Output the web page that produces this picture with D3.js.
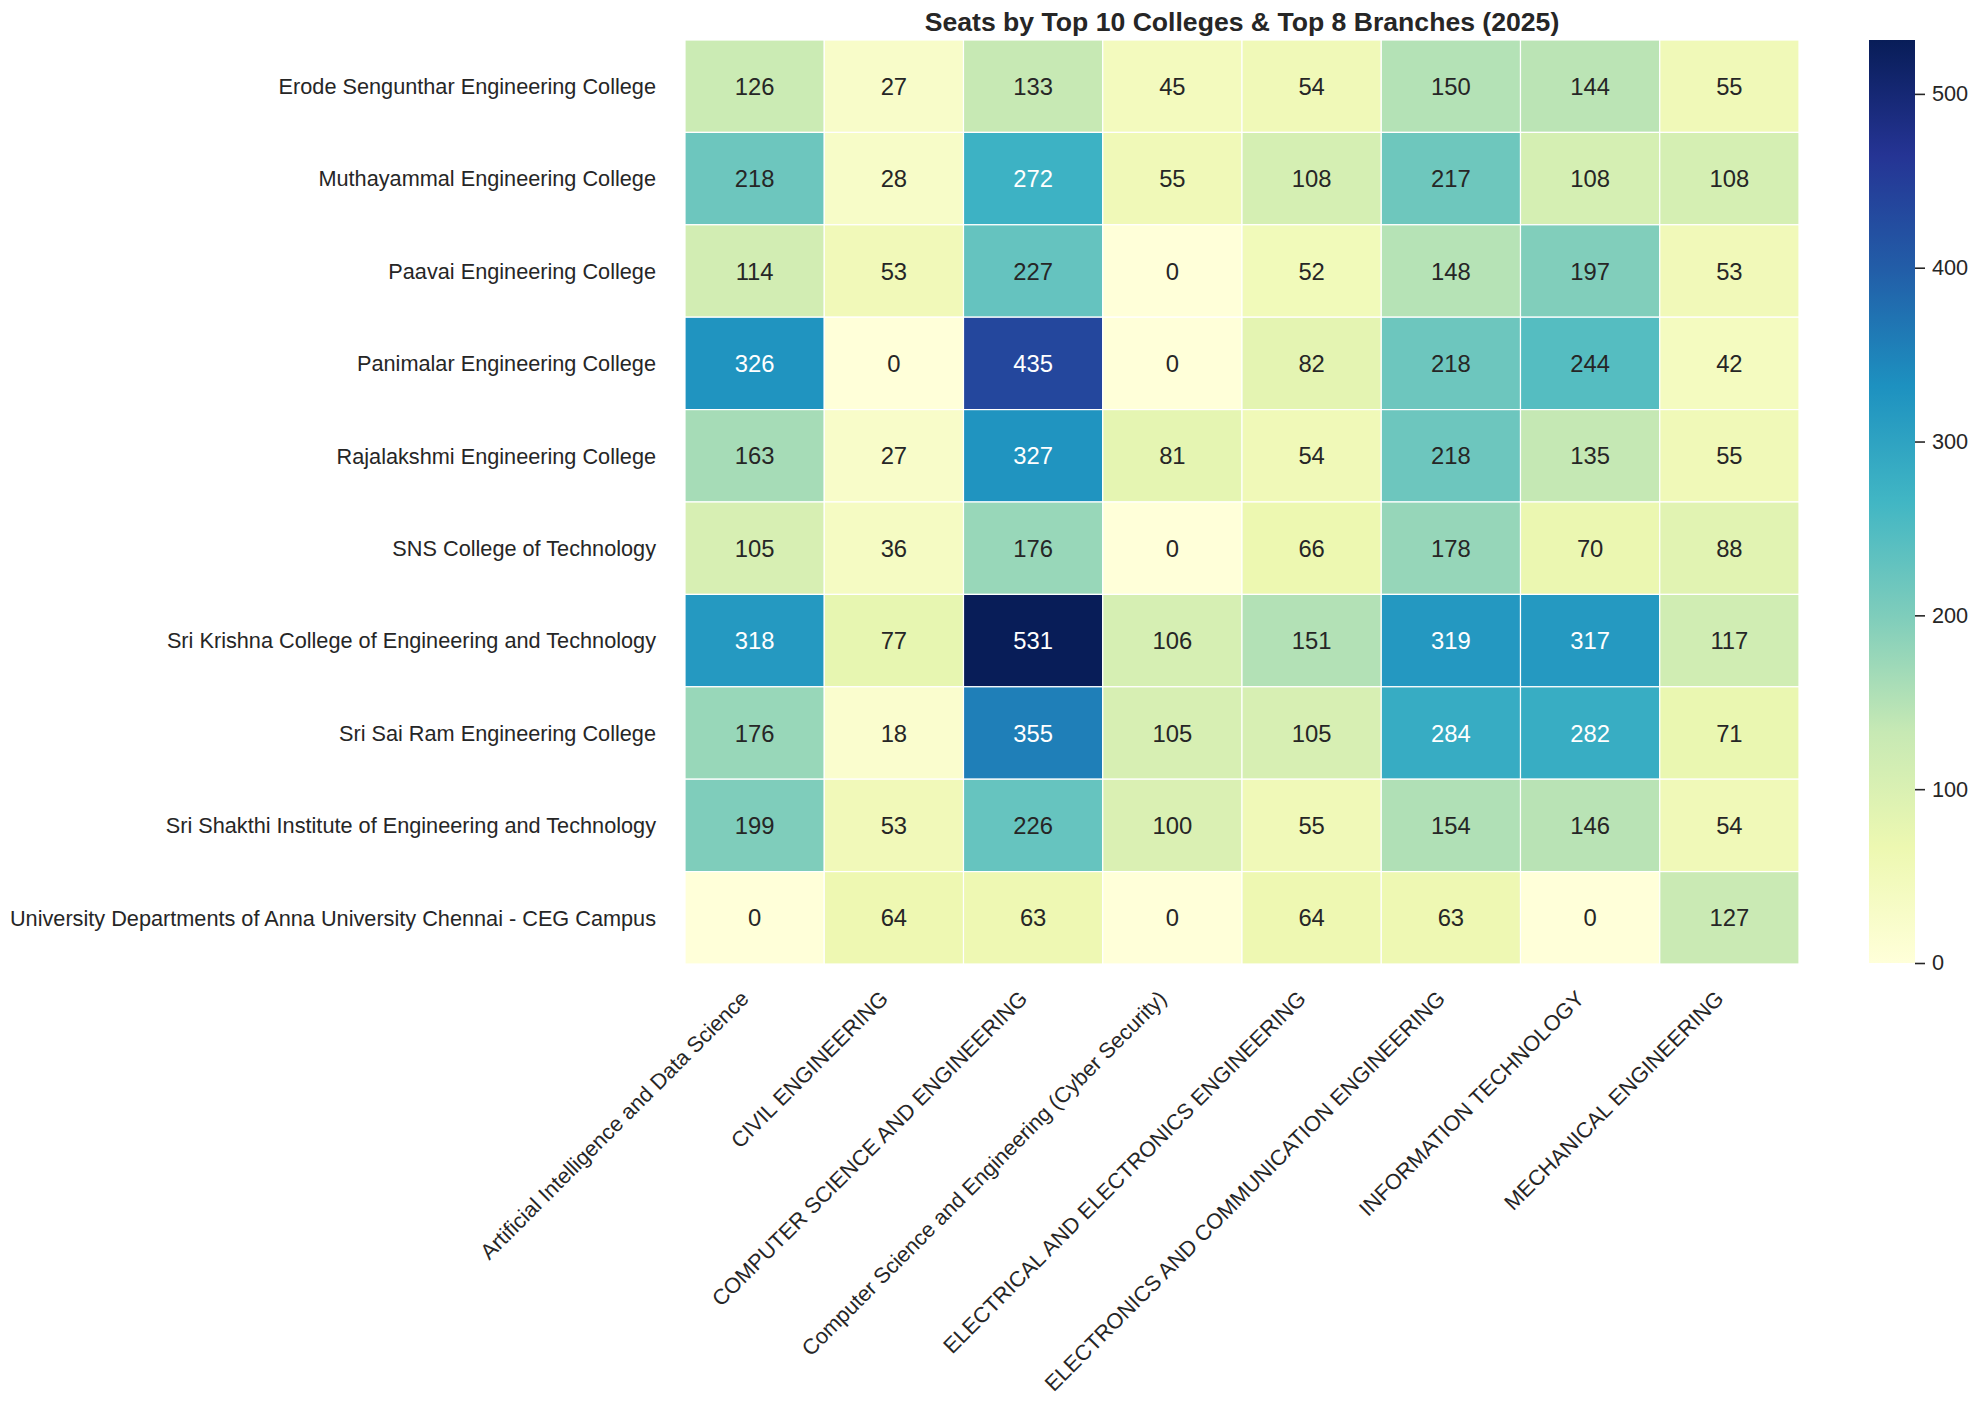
<!DOCTYPE html>
<meta charset="utf-8">
<script src="https://d3js.org/d3.v7.min.js"></script>
<style>
  body { margin: 0; background: #fff; }
  text { font-family: "Liberation Sans", Arial, sans-serif; fill: #262626; }
</style>
<div id="my_dataviz"></div>
<script>

  // colleges (rows) and branches (columns)
  var colleges = [
    "Erode Sengunthar Engineering College",
    "Muthayammal Engineering College",
    "Paavai Engineering College",
    "Panimalar Engineering College",
    "Rajalakshmi Engineering College",
    "SNS College of Technology",
    "Sri Krishna College of Engineering and Technology",
    "Sri Sai Ram Engineering College",
    "Sri Shakthi Institute of Engineering and Technology",
    "University Departments of Anna University Chennai - CEG Campus"
  ]
  var branches = [
    "Artificial Intelligence and Data Science",
    "CIVIL ENGINEERING",
    "COMPUTER SCIENCE AND ENGINEERING",
    "Computer Science and Engineering (Cyber Security)",
    "ELECTRICAL AND ELECTRONICS ENGINEERING",
    "ELECTRONICS AND COMMUNICATION ENGINEERING",
    "INFORMATION TECHNOLOGY",
    "MECHANICAL ENGINEERING"
  ]

  // seats per branch, one value per college (same order as colleges)
  var aids   = [126, 218, 114, 326, 163, 105, 318, 176, 199, 0]
  var civil  = [27, 28, 53, 0, 27, 36, 77, 18, 53, 64]
  var cse    = [133, 272, 227, 435, 327, 176, 531, 355, 226, 63]
  var cseCyb = [45, 55, 0, 0, 81, 0, 106, 105, 100, 0]
  var eee    = [54, 108, 52, 82, 54, 66, 151, 105, 55, 64]
  var ece    = [150, 217, 148, 218, 218, 178, 319, 284, 154, 63]
  var it     = [144, 108, 197, 244, 135, 70, 317, 282, 146, 0]
  var mech   = [55, 108, 53, 42, 55, 88, 117, 71, 54, 127]

  var cbTicks = [0, 100, 200, 300, 400, 500]

  var columns = [aids, civil, cse, cseCyb, eee, ece, it, mech]
  var data = []
  colleges.forEach(function(c, i) {
    branches.forEach(function(b, j) {
      data.push({college: c, branch: b, value: columns[j][i]})
    })
  })

  var W = 1979, H = 1403
  var plotL = 685, plotR = 1799, plotT = 40, plotB = 964
  var tickFont = "21.7px", annotFont = "23.8px"

  var svg = d3.select("#my_dataviz")
    .append("svg")
      .attr("width", W)
      .attr("height", H)

  var x = d3.scaleBand().range([plotL, plotR]).domain(branches)
  var y = d3.scaleBand().range([plotT, plotB]).domain(colleges)

  var vmax = d3.max(data, function(d) { return d.value })
  // matplotlib YlGnBu: linear between the 9 brewer colours
  var ylgnbu = ["#ffffd9", "#edf8b1", "#c7e9b4", "#7fcdbb", "#41b6c4", "#1d91c0", "#225ea8", "#253494", "#081d58"]
  var myColor = d3.scaleLinear()
    .domain(ylgnbu.map(function(c, i) { return vmax * i / (ylgnbu.length - 1) }))
    .range(ylgnbu)
    .interpolate(d3.interpolateRgb)

  function lum(c) {
    var rgb = d3.rgb(c)
    var f = function(v) { v = v / 255; return v <= 0.03928 ? v / 12.92 : Math.pow((v + 0.055) / 1.055, 2.4) }
    return 0.2126 * f(rgb.r) + 0.7152 * f(rgb.g) + 0.0722 * f(rgb.b)
  }

  // cells
  svg.selectAll("rect.cell")
    .data(data)
    .enter()
    .append("rect")
      .attr("class", "cell")
      .attr("x", function(d) { return x(d.branch) })
      .attr("y", function(d) { return y(d.college) })
      .attr("width", x.bandwidth())
      .attr("height", y.bandwidth())
      .style("fill", function(d) { return myColor(d.value) })
      .style("stroke", "#fff")
      .style("stroke-width", 1.2)

  // annotations
  svg.selectAll("text.annot")
    .data(data)
    .enter()
    .append("text")
      .attr("class", "annot")
      .attr("x", function(d) { return x(d.branch) + x.bandwidth() / 2 })
      .attr("y", function(d) { return y(d.college) + y.bandwidth() / 2 })
      .attr("dy", "0.36em")
      .attr("text-anchor", "middle")
      .style("font-size", annotFont)
      .style("fill", function(d) { return lum(myColor(d.value)) > 0.408 ? "#262626" : "#ffffff" })
      .text(function(d) { return d.value })

  // y labels
  svg.selectAll("text.ylab")
    .data(colleges)
    .enter()
    .append("text")
      .attr("class", "ylab")
      .attr("x", 656)
      .attr("y", function(d) { return y(d) + y.bandwidth() / 2 })
      .attr("dy", "0.36em")
      .attr("text-anchor", "end")
      .style("font-size", tickFont)
      .text(function(d) { return d })

  // x labels, rotated 45
  svg.selectAll("text.xlab")
    .data(branches)
    .enter()
    .append("text")
      .attr("class", "xlab")
      .attr("transform", function(d) {
        return "translate(" + (x(d) + x.bandwidth() / 2 - 4.5) + ",1000) rotate(-45)"
      })
      .attr("text-anchor", "end")
      .style("font-size", tickFont)
      .text(function(d) { return d })

  // title
  svg.append("text")
    .attr("x", (plotL + plotR) / 2)
    .attr("y", 31)
    .attr("text-anchor", "middle")
    .style("font-size", "26.6px")
    .style("font-weight", "bold")
    .text("Seats by Top 10 Colleges & Top 8 Branches (2025)")

  // colorbar
  var cbX = 1869, cbW = 46
  var cy = d3.scaleLinear().domain([0, vmax]).range([plotB - 1, plotT])
  var grad = svg.append("defs").append("linearGradient")
    .attr("id", "cbgrad")
    .attr("x1", 0).attr("y1", 1).attr("x2", 0).attr("y2", 0)
  grad.selectAll("stop")
    .data(ylgnbu)
    .enter()
    .append("stop")
      .attr("offset", function(d, i) { return i / (ylgnbu.length - 1) })
      .attr("stop-color", function(d) { return d })
  svg.append("rect")
    .attr("x", cbX)
    .attr("y", cy(vmax))
    .attr("width", cbW)
    .attr("height", cy(0) - cy(vmax))
    .style("fill", "url(#cbgrad)")

  var cbAxis = svg.append("g")
    .attr("transform", "translate(" + (cbX + cbW) + ",0)")
    .call(d3.axisRight(cy).tickValues(cbTicks).tickSize(10).tickPadding(7))
  cbAxis.select(".domain").remove()
  cbAxis.selectAll("line").style("stroke", "#262626").style("stroke-width", 1.6)
  cbAxis.selectAll("text")
    .style("font-size", tickFont)
    .style("font-family", "'Liberation Sans', Arial, sans-serif")
    .style("fill", "#262626")

</script>
